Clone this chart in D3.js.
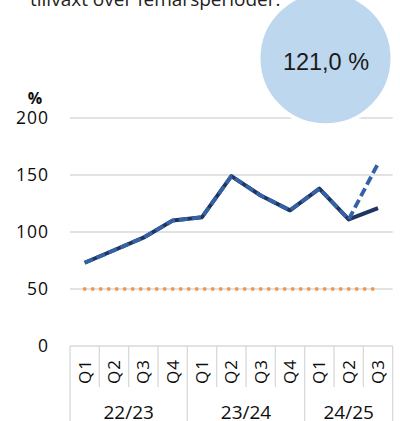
<!DOCTYPE html>
<html>
<head>
<meta charset="utf-8">
<script src="https://cdn.jsdelivr.net/npm/d3@7"></script>
<style>
html,body{margin:0;padding:0;background:#fff;}
svg{display:block;}
</style>
</head>
<body>
<svg id="c" width="400" height="421"></svg>
<script>
const quarters = ["Q1","Q2","Q3","Q4","Q1","Q2","Q3","Q4","Q1","Q2","Q3"];
const years = ["22/23","23/24","24/25"];
const yearCounts = [4,4,3];
const actual = [73, 84, 95, 110, 113, 149, 132, 119, 138, 111, 121];
const forecast = [73, 84, 95, 110, 113, 149, 132, 119, 138, 111, 160];
const target = [50,50,50,50,50,50,50,50,50,50,50];
const yTicks = [0,50,100,150,200];
const bubbleLabel = "121,0 %";
const topText = "tillväxt över femårsperioder.";

const svg = d3.select("#c");
const x = d3.scaleBand().domain(d3.range(quarters.length)).range([70, 392.7]).padding(0);
const y = d3.scaleLinear().domain([0,200]).range([346,118]);
const cx = i => x(i) + x.bandwidth()/2;
const grid = "#d9d9d9";
const ink = "#0d0d0d";

// top text (cut off)
svg.append("text").attr("x",30).attr("y",6)
  .attr("font-family","Open Sans").attr("font-size",19).attr("fill","#222")
  .text(topText);

// gridlines
svg.append("g").selectAll("line").data(yTicks.filter(d=>d>0)).join("line")
  .attr("x1",70).attr("x2",392.7).attr("y1",d=>y(d)).attr("y2",d=>y(d))
  .attr("stroke",grid).attr("stroke-width",1.3);

// y axis labels
const yAxis = d3.axisLeft(y).tickValues(yTicks).tickSize(0).tickPadding(0).tickFormat(d3.format("d"));
const ga = svg.append("g").attr("transform","translate(49,0)").call(yAxis);
ga.select(".domain").remove();
ga.selectAll("text").attr("font-family","Open Sans").attr("font-size",17.5).attr("fill",ink)
  .attr("letter-spacing",1);

svg.append("text").attr("x",35).attr("y",104).attr("text-anchor","middle")
  .attr("font-family","Open Sans").attr("font-weight","bold").attr("font-size",16).attr("fill",ink)
  .text("%");

// category axis
svg.append("line").attr("x1",70).attr("x2",392.7).attr("y1",346).attr("y2",346).attr("stroke",grid).attr("stroke-width",1.3);
const bounds = d3.range(quarters.length+1);
let groupStarts = [0]; yearCounts.reduce((a,c)=>{groupStarts.push(a+c); return a+c;},0);
svg.append("g").selectAll("line").data(bounds).join("line")
  .attr("x1",i=> i<quarters.length ? x(i) : x(i-1)+x.bandwidth())
  .attr("x2",i=> i<quarters.length ? x(i) : x(i-1)+x.bandwidth())
  .attr("y1",346).attr("y2",i=> groupStarts.includes(i) ? 421 : 387)
  .attr("stroke",grid).attr("stroke-width",1.3);

svg.append("g").selectAll("text").data(quarters).join("text")
  .attr("transform",(d,i)=>`translate(${cx(i)+6},371.5) rotate(-90)`)
  .attr("text-anchor","middle")
  .attr("font-family","Open Sans").attr("font-size",17).attr("fill",ink)
  .attr("letter-spacing",1)
  .text(d=>d);

svg.append("g").selectAll("text").data(years).join("text")
  .attr("x",(d,k)=>{const s=x(groupStarts[k]); const e=x(groupStarts[k+1]-1)+x.bandwidth(); return (s+e)/2;})
  .attr("y",419)
  .attr("text-anchor","middle")
  .attr("font-family","Open Sans").attr("font-size",19).attr("fill",ink)
  .text(d=>d);

// target dotted line
const line = d3.line().x((d,i)=>cx(i)).y(d=>y(d));
svg.append("path").datum(target).attr("d",line).attr("fill","none")
  .attr("stroke","#f39a4c").attr("stroke-width",3.8).attr("stroke-linecap","round")
  .attr("stroke-dasharray","0 8");

// actual solid dark line
svg.append("path").datum(actual).attr("d",line).attr("fill","none")
  .attr("stroke","#1f3460").attr("stroke-width",4).attr("stroke-linejoin","round");
// forecast dashed blue line
svg.append("path").datum(forecast).attr("d",line).attr("fill","none")
  .attr("stroke","#3561a6").attr("stroke-width",3.8).attr("stroke-linejoin","round")
  .attr("stroke-dasharray","9 4");

// bubble
svg.append("circle").attr("cx",325.5).attr("cy",58.3).attr("r",67)
  .attr("fill","#bdd7ee").attr("stroke","#fff").attr("stroke-width",4);
svg.append("text").attr("x",326).attr("y",70).attr("text-anchor","middle")
  .attr("font-family","Liberation Sans").attr("font-size",23.5).attr("fill","#1a1a1a")
  .text(bubbleLabel);
</script>
</body>
</html>
